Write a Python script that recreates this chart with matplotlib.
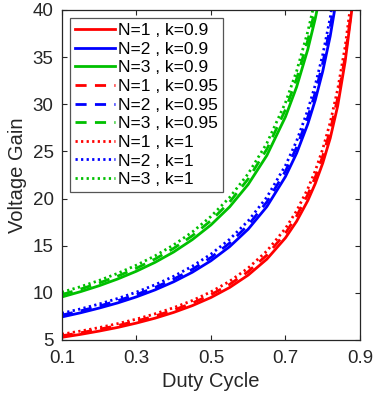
import matplotlib
matplotlib.use('Agg')
import matplotlib.pyplot as plt

# Duty cycle values
duty = [0.10, 0.15, 0.20, 0.25, 0.30, 0.35, 0.40, 0.45, 0.50, 0.55, 0.60,
        0.65, 0.70, 0.73, 0.76, 0.78, 0.80, 0.82, 0.84, 0.86, 0.88, 0.90]

# Voltage gain, k = 0.9
g_n1_k090 = [5.28, 5.59, 5.94, 6.33, 6.79, 7.31, 7.92, 8.64, 9.50, 10.56, 11.88,
             13.57, 15.83, 17.59, 19.79, 21.59, 23.75, 26.39, 29.80, 34.50, 40.60, 48.50]
g_n2_k090 = [7.44, 7.88, 8.38, 8.93, 9.57, 10.31, 11.17, 12.18, 13.40, 14.89, 16.75,
             19.14, 22.33, 24.81, 27.92, 30.45, 33.50, 37.22, 41.88, 47.86, 55.83, 67.00]
g_n3_k090 = [9.56, 10.12, 10.75, 11.47, 12.29, 13.23, 14.33, 15.64, 17.20, 19.11, 21.50,
             24.57, 28.67, 31.85, 35.83, 39.09, 43.00, 47.78, 53.75, 61.43, 71.67, 86.00]

# k = 0.95
g_n1_k095 = [5.44, 5.76, 6.13, 6.53, 7.00, 7.54, 8.17, 8.91, 9.80, 10.89, 12.25,
             14.00, 16.33, 18.15, 20.42, 22.27, 24.50, 27.22, 30.63, 35.00, 40.83, 49.00]
g_n2_k095 = [7.63, 8.08, 8.59, 9.16, 9.81, 10.57, 11.45, 12.49, 13.74, 15.27, 17.18,
             19.63, 22.90, 25.44, 28.63, 31.23, 34.35, 38.17, 42.94, 49.07, 57.25, 68.70]
g_n3_k095 = [9.81, 10.39, 11.04, 11.77, 12.61, 13.58, 14.72, 16.05, 17.66, 19.62, 22.08,
             25.23, 29.43, 32.70, 36.79, 40.14, 44.15, 49.06, 55.19, 63.07, 73.58, 88.30]

# k = 1
g_n1_k1 = [5.61, 5.94, 6.31, 6.73, 7.21, 7.77, 8.42, 9.18, 10.10, 11.22, 12.63,
           14.43, 16.83, 18.70, 21.04, 22.95, 25.25, 28.06, 31.56, 36.07, 42.08, 50.50]
g_n2_k1 = [7.83, 8.29, 8.81, 9.40, 10.07, 10.85, 11.75, 12.82, 14.10, 15.67, 17.63,
           20.14, 23.50, 26.11, 29.38, 32.05, 35.25, 39.17, 44.06, 50.36, 58.75, 70.50]
g_n3_k1 = [10.06, 10.65, 11.31, 12.07, 12.93, 13.92, 15.08, 16.45, 18.10, 20.11, 22.63,
           25.86, 30.17, 33.52, 37.71, 41.14, 45.25, 50.28, 56.56, 64.64, 75.42, 90.50]

labels = ['N=1 , k=0.9', 'N=2 , k=0.9', 'N=3 , k=0.9',
          'N=1 , k=0.95', 'N=2 , k=0.95', 'N=3 , k=0.95',
          'N=1 , k=1', 'N=2 , k=1', 'N=3 , k=1']
xticks = [0.1, 0.3, 0.5, 0.7, 0.9]
yticks = [5, 10, 15, 20, 25, 30, 35, 40]

plt.rcParams['font.family'] = ['Liberation Sans', 'DejaVu Sans']
txt = '#262626'

fig = plt.figure(figsize=(3.75, 3.99), dpi=100)
ax = fig.add_axes([0.165, 0.148, 0.795, 0.827])

series = [g_n1_k090, g_n2_k090, g_n3_k090,
          g_n1_k095, g_n2_k095, g_n3_k095,
          g_n1_k1, g_n2_k1, g_n3_k1]
colors = ['#ff0000', '#0000ff', '#00c000'] * 3
styles = ['-'] * 3 + [(0, (4, 3))] * 3 + [(0, (0.8, 1.2))] * 3

for s, c, ls, lab in zip(series, colors, styles, labels):
    ax.plot(duty, s, color=c, linestyle=ls, linewidth=2.0, label=lab)

ax.set_xlim(0.1, 0.9)
ax.set_ylim(5, 40)
ax.set_xticks(xticks)
ax.set_xticklabels([str(t) for t in xticks])
ax.set_yticks(yticks)
ax.tick_params(direction='in', top=True, right=True, length=3.6, width=0.8,
               labelsize=13.5, colors=txt)
ax.tick_params(axis='x', pad=7)
ax.tick_params(axis='y', pad=6)
for sp in ax.spines.values():
    sp.set_color(txt)
    sp.set_linewidth(0.9)

ax.set_xlabel('Duty Cycle', fontsize=14.5, color=txt, labelpad=4)
ax.set_ylabel('Voltage Gain', fontsize=14.5, color=txt, labelpad=4)

leg = ax.legend(loc='upper left', fontsize=12.5, handlelength=2.3, labelspacing=0.2,
                handletextpad=0.17, borderpad=0.3, borderaxespad=0.45,
                fancybox=False, framealpha=1)
leg.get_frame().set_edgecolor('#555555')
leg.get_frame().set_linewidth(0.9)
for t in leg.get_texts():
    t.set_color('black')

fig.savefig('out.png', dpi=100)
